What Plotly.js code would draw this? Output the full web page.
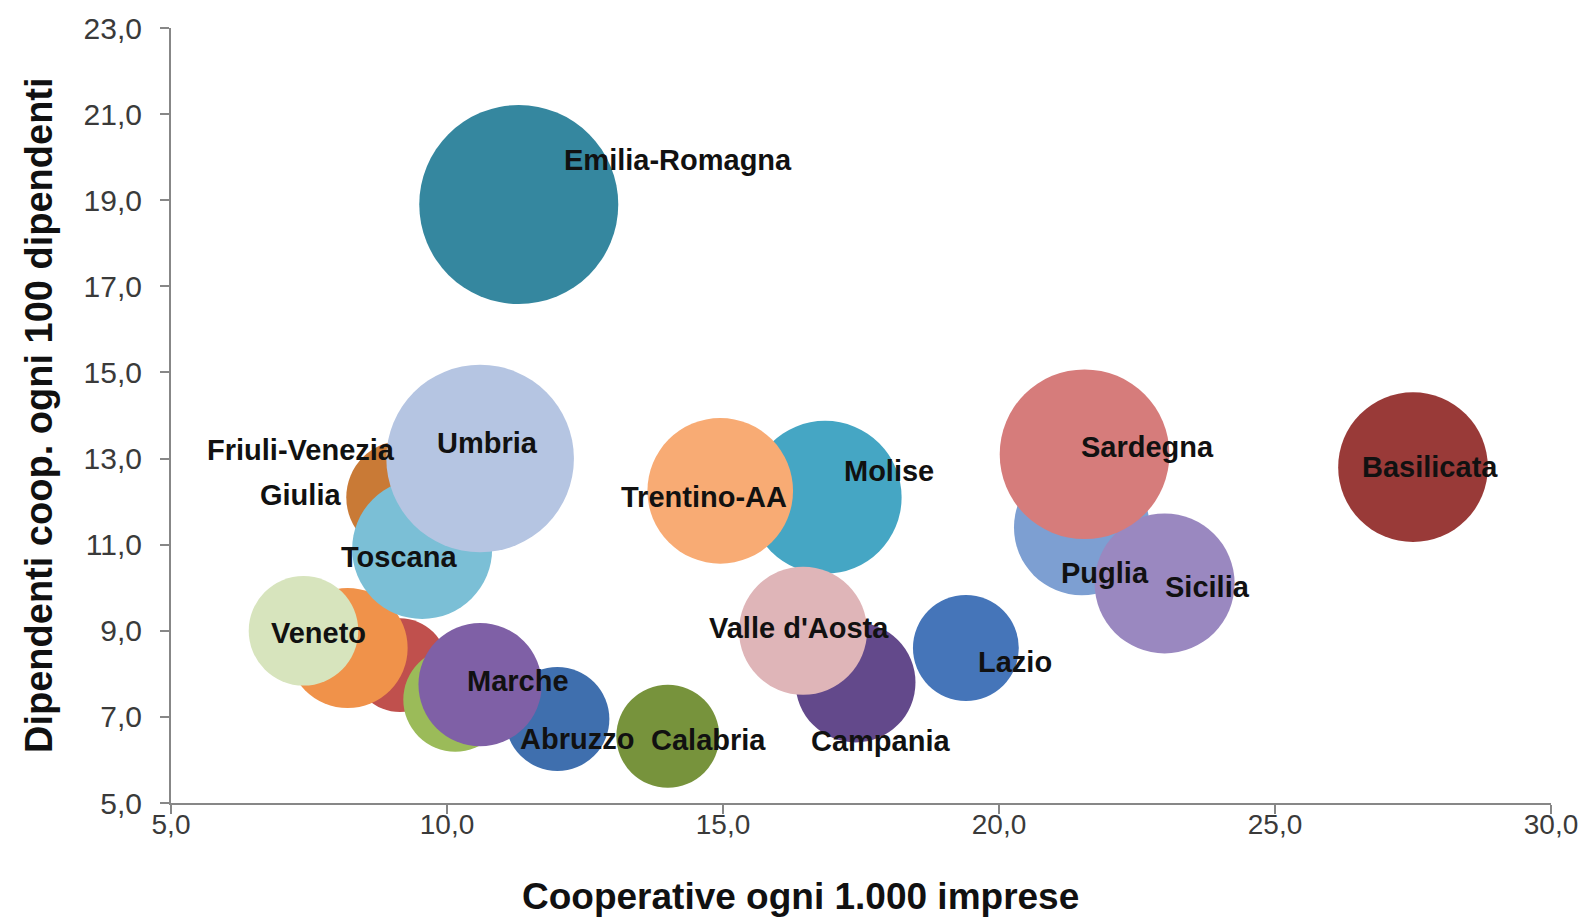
<!DOCTYPE html>
<html>
<head>
<meta charset="utf-8">
<script src="https://cdn.plot.ly/plotly-3.0.1.min.js"></script>
<style>
  html, body { margin: 0; padding: 0; background: #ffffff; }
  #chart { width: 1588px; height: 918px; }
</style>
</head>
<body>
<div id="chart"></div>
<script>
// Regioni italiane, nell'ordine in cui vengono disegnate (le ultime stanno sopra)
const regioni = [
  "Emilia-Romagna", "Friuli-Venezia Giulia", "Lombardia", "Piemonte", "Veneto",
  "Toscana", "Umbria", "Liguria", "Abruzzo", "Marche",
  "Calabria", "Molise", "Trentino-AA", "Campania", "Valle d'Aosta",
  "Lazio", "Puglia", "Sicilia", "Sardegna", "Basilicata"
];

// Cooperative ogni 1.000 imprese (asse x)
const cooperativeOgni1000 = [
  11.3, 9.2, 9.15, 8.2, 7.4,
  9.55, 10.6, 10.15, 12.0, 10.6,
  14.0, 16.85, 14.95, 17.4, 16.45,
  19.4, 21.5, 23.0, 21.55, 27.5
];

// Dipendenti coop. ogni 100 dipendenti (asse y)
const dipendentiOgni100 = [
  18.9, 12.1, 8.2, 8.6, 9.0,
  10.9, 13.0, 7.4, 6.95, 7.75,
  6.55, 12.1, 12.25, 7.8, 9.0,
  8.6, 11.4, 10.1, 13.1, 12.8
];

// Peso di ciascuna bolla (area proporzionale al valore)
const pesoBolla = [
  99, 32, 22, 36, 30,
  49, 88, 27, 27, 38,
  26.5, 58.5, 53, 36, 41,
  28, 46, 49, 72, 56
];

// Testo delle etichette ("" = nessuna etichetta)
const etichette = [
  "Emilia-Romagna", "Friuli-Venezia\nGiulia", "", "", "Veneto",
  "Toscana", "Umbria", "", "Abruzzo", "Marche",
  "Calabria", "Molise", "Trentino-AA", "Campania", "Valle d'Aosta",
  "Lazio", "Puglia", "Sicilia", "Sardegna", "Basilicata"
];

// Stile: colori delle bolle
const coloriBolle = [
  "#35879f", "#c97a36", "#c0504d", "#f0924a", "#d7e4bd",
  "#7bbfd6", "#b5c5e2", "#9bbb59", "#3f6fae", "#7f60a6",
  "#77933c", "#45a6c4", "#f8ab74", "#63498b", "#dfb5b8",
  "#4575b9", "#7d9fd2", "#9a88c0", "#d67c7b", "#993a38"
];

// Stile: spostamento delle etichette rispetto al centro della bolla (px, [dx, dy] con dy verso il basso)
const spostamentoEtichette = [
  [159, -45], [-102, -25], [0, 0], [0, 0], [15, 2],
  [-23, 8], [7, -16], [0, 0], [20, 20], [38, -4],
  [41, 4], [64, -26], [-16, 6], [25, 59], [-4, -3],
  [49, 14], [23, 46], [43, 4], [63, -7], [17, 0]
];

const FONT = "'Liberation Sans', Arial, sans-serif";
const interlinea = 45;

const bolle = {
  type: "scatter",
  mode: "markers",
  x: cooperativeOgni1000,
  y: dipendentiOgni100,
  text: regioni,
  hoverinfo: "text+x+y",
  cliponaxis: true,
  marker: {
    size: pesoBolla,
    sizemode: "area",
    sizeref: 0.005,
    color: coloriBolle,
    opacity: 1,
    line: { width: 0 }
  },
  showlegend: false
};

// Etichette dei punti, una annotazione per riga di testo
const annotazioni = [];
etichette.forEach((testo, i) => {
  if (!testo) return;
  const righe = testo.split("\n");
  const [dx, dy] = spostamentoEtichette[i];
  righe.forEach((riga, k) => {
    const offsetRiga = (k - (righe.length - 1) / 2) * interlinea;
    annotazioni.push({
      x: cooperativeOgni1000[i],
      y: dipendentiOgni100[i],
      xref: "x",
      yref: "y",
      text: riga,
      showarrow: false,
      xanchor: "center",
      yanchor: "middle",
      xshift: dx,
      yshift: -(dy + offsetRiga),
      font: { family: FONT, size: 29, color: "#111111", weight: "bold" }
    });
  });
});

// Titoli degli assi
annotazioni.push({
  text: "Cooperative ogni 1.000 imprese",
  xref: "paper", yref: "paper",
  x: 0.4565, y: -0.121,
  xanchor: "center", yanchor: "middle",
  showarrow: false,
  font: { family: FONT, size: 37, color: "#111111", weight: "bold" }
});
annotazioni.push({
  text: "Dipendenti coop. ogni 100 dipendenti",
  xref: "paper", yref: "paper",
  x: -0.096, y: 0.5,
  xanchor: "center", yanchor: "middle",
  textangle: -90,
  showarrow: false,
  font: { family: FONT, size: 38, color: "#111111", weight: "bold" }
});

const assiComuni = {
  showgrid: false,
  zeroline: false,
  showline: true,
  linecolor: "#878787",
  linewidth: 2,
  ticks: "outside",
  ticklen: 9,
  tickwidth: 2,
  tickcolor: "#878787",
  tickformat: ".1f",
  fixedrange: true
};

const layout = {
  width: 1588,
  height: 918,
  margin: { l: 171, r: 37, t: 28, b: 115 },
  paper_bgcolor: "#ffffff",
  plot_bgcolor: "#ffffff",
  separators: ",.",
  xaxis: Object.assign({}, assiComuni, {
    range: [5, 30], tick0: 5, dtick: 5, tickmode: "linear",
    tickfont: { family: FONT, size: 28, color: "#3a3a3a" },
    ticklabelstandoff: -14
  }),
  yaxis: Object.assign({}, assiComuni, {
    range: [5, 23], tick0: 5, dtick: 2, tickmode: "linear",
    tickfont: { family: FONT, size: 30, color: "#3a3a3a" },
    ticklabelstandoff: 12
  }),
  annotations: annotazioni,
  showlegend: false
};

Plotly.newPlot("chart", [bolle], layout, { displayModeBar: false, staticPlot: true });
</script>
</body>
</html>
